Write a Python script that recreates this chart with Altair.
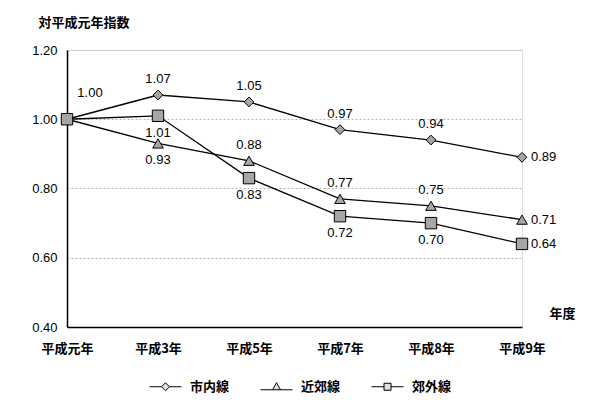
import altair as alt
import pandas as pd

years = ["平成元年", "平成3年", "平成5年", "平成7年", "平成8年", "平成9年"]
series = ["市内線", "近郊線", "郊外線"]
shinai = [1.00, 1.07, 1.05, 0.97, 0.94, 0.89]
kinko = [1.00, 0.93, 0.88, 0.77, 0.75, 0.71]
kogai = [1.00, 1.01, 0.83, 0.72, 0.70, 0.64]
values = [shinai, kinko, kogai]


def placement(si, i):
    if i == 0:
        return "first" if si == 0 else "none"
    if i == len(years) - 1:
        return "right"
    if si == 0:
        return "above"
    if si == 1:
        return "below" if i == 1 else "above"
    return "below"


rows = []
for si, s in enumerate(series):
    for i, y in enumerate(years):
        rows.append({"year": y, "series": s, "value": values[si][i],
                     "pos": placement(si, i), "order": i})
df = pd.DataFrame(rows)

JP = "Noto Sans CJK JP"
NUM = "Liberation Sans"

x = alt.X("year:N", sort=years, scale=alt.Scale(type="point", padding=0),
          axis=alt.Axis(title="年度", titleX=482, titleY=-14, titleAlign="left",
                        titleBaseline="middle", titleFont=JP, titleFontSize=13,
                        titleFontWeight="bold", labelFont=JP, labelFontSize=13,
                        labelFontWeight="bold", labelColor="black", labelPadding=15,
                        ticks=False, domain=True, domainColor="black",
                        domainWidth=1.5, labelAngle=0))
y = alt.Y("value:Q", scale=alt.Scale(domain=[0.4, 1.2], nice=False, zero=False),
          axis=alt.Axis(title="対平成元年指数", titleAngle=0, titleX=-29, titleY=-28,
                        titleAlign="left", titleBaseline="middle", titleFont=JP,
                        titleFontSize=13, titleFontWeight="bold", values=[0.4, 0.6, 0.8, 1.0, 1.2],
                        format=".2f", labelFont=NUM, labelFontSize=13, labelColor="black",
                        labelPadding=10, ticks=False, domainColor="black", domainWidth=1.5,
                        grid=True, gridColor="#b5b5b5", gridDash=[2, 2], gridWidth=1))

base = alt.Chart(df)

lines = base.mark_line(color="black", strokeWidth=1.3).encode(
    x=x, y=y, detail="series:N", order="order:Q")

points = base.mark_point(filled=True, fill="#a6a6a6", stroke="black", strokeWidth=1,
                         opacity=1).encode(
    x=x, y=y,
    shape=alt.Shape("series:N", scale=alt.Scale(domain=series,
                                                  range=["diamond", "triangle-up", "square"]),
                    legend=None),
    size=alt.Size("series:N", scale=alt.Scale(domain=series, range=[95, 130, 100]),
                  legend=None))

leg_paths = [
    "M-3.2,0H-0.8M0.8,0H3.2M0,-0.8L0.8,0L0,0.8L-0.8,0Z",
    "M-3.2,0.6H-0.8M0.8,0.6H3.2M0,-0.8L0.8,0.6L-0.8,0.6Z",
    "M-3.2,0H-0.7M0.7,0H3.2M-0.7,-0.7H0.7V0.7H-0.7Z",
]
legend_layer = base.transform_filter("false").mark_point(
    filled=False, fill="#e0e0e0", stroke="black", strokeWidth=1, opacity=1, size=100).encode(
    x=x, y=y,
    shape=alt.Shape("series:N", scale=alt.Scale(domain=series, range=leg_paths),
                    legend=alt.Legend(title=None, orient="none", direction="horizontal",
                                      legendX=92, legendY=330,
                                      symbolStrokeWidth=1, symbolSize=100,
                                      labelFont=JP, labelFontSize=13, labelFontWeight="bold",
                                      labelColor="black", labelOffset=18, columnPadding=28)))


def txt(pos, dx, dy, align="center"):
    return base.transform_filter(alt.datum.pos == pos).mark_text(
        dx=dx, dy=dy, align=align, baseline="middle", font=NUM, fontSize=13,
        color="black").encode(x=x, y=y, text=alt.Text("value:Q", format=".2f"))


labels = [txt("first", 23, -26), txt("above", 0, -16), txt("below", 0, 17),
          txt("right", 9, 0, "left")]

chart = alt.layer(lines, points, legend_layer, *labels).resolve_scale(
    shape="independent", size="independent").properties(
    width=455, height=277,
    autosize=alt.AutoSizeParams(type="none"),
    padding={"left": 59, "top": 42, "right": 70, "bottom": 73},
).configure_view(stroke="black", strokeWidth=1).configure(background="white")

chart.save("out.html", embed_options={"renderer": "svg", "actions": False})
